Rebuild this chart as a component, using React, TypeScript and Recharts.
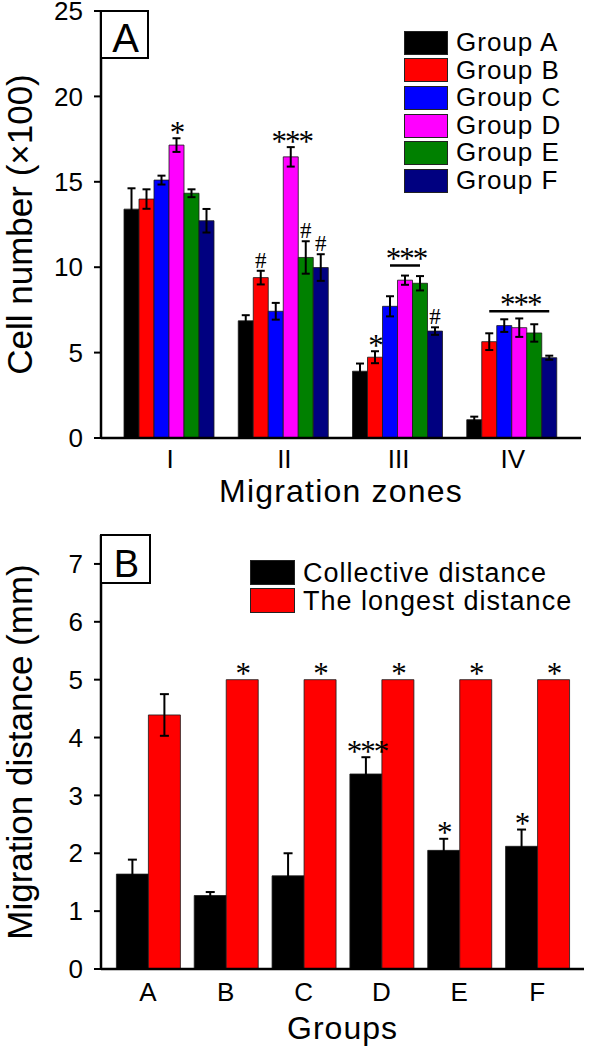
import { BarChart, Bar, XAxis, YAxis, ErrorBar, LabelList, Legend } from 'recharts';

const FONT = "'Liberation Sans', Arial, Helvetica, sans-serif";
const SERIF = "'Liberation Serif', 'Times New Roman', serif";

// ---- Panel A: cell number per migration zone ----
const zones = ['I', 'II', 'III', 'IV'];
const groupNames = ['Group A', 'Group B', 'Group C', 'Group D', 'Group E', 'Group F'];

const groupA = [13.4, 6.86, 3.91, 1.07];
const groupAErr = [1.22, 0.33, 0.45, 0.18];
const groupAMarks = ['', '', '', ''];

const groupB = [13.99, 9.39, 4.73, 5.64];
const groupBErr = [0.57, 0.4, 0.35, 0.49];
const groupBMarks = ['', '#', '*', ''];

const groupC = [15.1, 7.42, 7.71, 6.58];
const groupCErr = [0.26, 0.49, 0.59, 0.37];
const groupCMarks = ['', '', '', ''];

const groupD = [17.15, 16.46, 9.24, 6.46];
const groupDErr = [0.4, 0.57, 0.27, 0.54];
const groupDMarks = ['*', '***', '', ''];

const groupE = [14.33, 10.57, 9.06, 6.15];
const groupEErr = [0.23, 0.95, 0.42, 0.51];
const groupEMarks = ['', '#', '', ''];

const groupF = [12.72, 9.98, 6.26, 4.7];
const groupFErr = [0.69, 0.78, 0.22, 0.12];
const groupFMarks = ['', '#', '#', ''];

const cellTicks = [0, 5, 10, 15, 20, 25];

// significance bars spanning several groups (series index from..to)
const bracketZones = ['III', 'IV'];
const bracketFrom = [2, 1];
const bracketTo = [4, 5];
const bracketLevel = [10.1, 7.42];
const bracketText = ['***', '***'];

// ---- Panel B: migration distance per group ----
const groupLetters = ['A', 'B', 'C', 'D', 'E', 'F'];
const distanceNames = ['Collective distance', 'The longest distance'];

const collective = [1.64, 1.27, 1.61, 3.37, 2.05, 2.12];
const collectiveErr = [0.25, 0.06, 0.39, 0.29, 0.2, 0.29];
const collectiveMarks = ['', '', '', '***', '*', '*'];

const longest = [4.39, 5, 5, 5, 5, 5];
const longestErr = [0.36, 0, 0, 0, 0, 0];
const longestMarks = ['', '*', '*', '*', '*', '*'];

const distanceTicks = [0, 1, 2, 3, 4, 5, 6, 7];

const GROUP_COLORS = ['#000000', '#ff0000', '#0000ff', '#ff00ff', '#008000', '#000080'];
const DISTANCE_COLORS = ['#000000', '#ff0000'];

const seriesA = [
  { key: 'A', values: groupA, errs: groupAErr, marks: groupAMarks },
  { key: 'B', values: groupB, errs: groupBErr, marks: groupBMarks },
  { key: 'C', values: groupC, errs: groupCErr, marks: groupCMarks },
  { key: 'D', values: groupD, errs: groupDErr, marks: groupDMarks },
  { key: 'E', values: groupE, errs: groupEErr, marks: groupEMarks },
  { key: 'F', values: groupF, errs: groupFErr, marks: groupFMarks },
];

const seriesB = [
  { key: 'collective', values: collective, errs: collectiveErr, marks: collectiveMarks },
  { key: 'longest', values: longest, errs: longestErr, marks: longestMarks },
];

const zoneData = zones.map((zone, i) => {
  const row: Record<string, string | number> = { zone };
  seriesA.forEach((s) => {
    row[s.key] = s.values[i];
    row['err' + s.key] = s.errs[i];
  });
  return row;
});

const distanceData = groupLetters.map((group, i) => {
  const row: Record<string, string | number> = { group };
  seriesB.forEach((s) => {
    row[s.key] = s.values[i];
    row['err' + s.key] = s.errs[i];
  });
  return row;
});

function readBox(p: any) {
  const vb = p.viewBox && typeof p.viewBox.x === 'number' ? p.viewBox : p;
  return { x: Number(vb.x), y: Number(vb.y), width: Number(vb.width), height: Number(vb.height) };
}

function pointIndex(p: any, values: number[]) {
  return typeof p.index === 'number' ? p.index : values.indexOf(Number(p.value));
}

function Stars({ x, y, text }: { x: number; y: number; text: string }) {
  return (
    <text x={x} y={y} textAnchor="middle" fontFamily={SERIF} fontSize={31} letterSpacing={-2} fill="#000">
      {text}
    </text>
  );
}

/**
 * Star / hash above the error bar of one bar
 */
function SigMark({ p, values, errs, marks }: any) {
  const i = pointIndex(p, values);
  const mark = marks[i];
  if (!mark) return null;
  const { x, y, width, height } = readBox(p);
  const ppu = height / values[i];
  const top = y - errs[i] * ppu;
  const cx = x + width / 2;
  if (mark === '#') {
    return (
      <text x={cx} y={top - 3} textAnchor="middle" fontFamily={SERIF} fontSize={23} fill="#000">
        #
      </text>
    );
  }
  return <Stars x={cx + (mark.length > 1 ? 1 : 0)} y={top + 4.5} text={mark} />;
}

/**
 * Horizontal line with stars over several bars of one zone
 */
function BracketMark({ p, values, seriesIndex }: any) {
  const i = pointIndex(p, values);
  const k = bracketZones.findIndex((z, j) => z === zones[i] && bracketTo[j] === seriesIndex);
  if (k < 0) return null;
  const { x, y, width, height } = readBox(p);
  const ppu = height / values[i];
  const lineY = y + height - bracketLevel[k] * ppu;
  const x2 = x + width / 2;
  const x1 = x2 - (bracketTo[k] - bracketFrom[k]) * width;
  return (
    <g>
      <line x1={x1} x2={x2} y1={lineY} y2={lineY} stroke="#000" strokeWidth={2.5} />
      <Stars x={(x1 + x2) / 2 + 1} y={lineY + 4} text={bracketText[k]} />
    </g>
  );
}

/**
 * Rotated y title plus the boxed panel letter in the plot corner
 */
function FrameLabel({ viewBox, title, tag, tagW, tagH, tagSize }: any) {
  const vb = viewBox || { x: 0, y: 0, width: 101, height: 0 };
  const cy = vb.y + vb.height / 2;
  const titleX = 32;
  const tx = vb.x + vb.width;
  return (
    <g>
      <text
        x={titleX}
        y={cy}
        transform={`rotate(-90, ${titleX}, ${cy})`}
        textAnchor="middle"
        fontFamily={FONT}
        fontSize={35}
        fill="#000"
      >
        {title}
      </text>
      <rect x={tx} y={vb.y} width={tagW} height={tagH} fill="#fff" stroke="#000" strokeWidth={2} />
      <text x={tx + tagW / 2 + 1} y={vb.y + tagH - 6} textAnchor="middle" fontFamily={FONT} fontSize={tagSize} fill="#000">
        {tag}
      </text>
    </g>
  );
}

function legendContent(rowH: number, swW: number, swH: number, fontSize: number) {
  return function LegendBox(props: any) {
    const payload = props.payload || [];
    return (
      <div style={{ fontFamily: FONT, fontSize, color: '#000', letterSpacing: 1 }}>
        {payload.map((entry: any) => (
          <div key={entry.value} style={{ display: 'flex', alignItems: 'center', height: rowH }}>
            <span
              style={{
                display: 'inline-block',
                width: swW,
                height: swH,
                background: entry.color,
                border: '1px solid #222',
                boxSizing: 'border-box',
              }}
            />
            <span style={{ marginLeft: 8, lineHeight: `${rowH}px`, whiteSpace: 'nowrap' }}>{entry.value}</span>
          </div>
        ))}
      </div>
    );
  };
}

const axisLine = { stroke: '#000', strokeWidth: 2.5 };
const tickLine = { stroke: '#000', strokeWidth: 2 };
const tickStyle = { fill: '#000', fontSize: 26, fontFamily: FONT };

function CellChart() {
  return (
    <BarChart
      width={593}
      height={520}
      data={zoneData}
      margin={{ top: 11, right: 12, bottom: 0, left: 0 }}
      barCategoryGap={11}
      barGap={0}
    >
      <XAxis
        dataKey="zone"
        height={82}
        padding={{ left: 12, right: 11 }}
        axisLine={axisLine}
        tickLine={false}
        tickSize={0}
        tickMargin={12}
        tick={tickStyle}
        label={{
          value: 'Migration zones',
          position: 'insideBottom',
          offset: 18,
          fontSize: 32,
          fontFamily: FONT,
          fill: '#000',
          letterSpacing: 1.2,
        }}
      />
      <XAxis xAxisId="top" dataKey="zone" orientation="top" height={0} tick={false} tickLine={false} axisLine={axisLine} />
      <YAxis
        width={101}
        domain={[0, 25]}
        ticks={cellTicks}
        interval={0}
        axisLine={axisLine}
        tickLine={tickLine}
        tickSize={7}
        tickMargin={11}
        tick={tickStyle}
        label={{
          content: (p: any) => (
            <FrameLabel viewBox={p.viewBox} title="Cell number (×100)" tag="A" tagW={47} tagH={47} tagSize={40} />
          ),
        }}
      />
      <YAxis yAxisId="right" orientation="right" width={0} domain={[0, 1]} tick={false} tickLine={false} axisLine={axisLine} />
      <Legend
        layout="vertical"
        align="center"
        verticalAlign="middle"
        wrapperStyle={{ left: 404, top: 29, width: 'auto' }}
        content={legendContent(27.6, 44, 24, 26)}
      />
      {seriesA.map((s, idx) => (
        <Bar
          key={s.key}
          dataKey={s.key}
          name={groupNames[idx]}
          fill={GROUP_COLORS[idx]}
          stroke="#1a1a1a"
          strokeWidth={0.8}
          isAnimationActive={false}
        >
          <ErrorBar dataKey={'err' + s.key} width={4} strokeWidth={2} stroke="#000" />
          <LabelList dataKey={s.key} content={(p: any) => <SigMark p={p} values={s.values} errs={s.errs} marks={s.marks} />} />
          <LabelList dataKey={s.key} content={(p: any) => <BracketMark p={p} values={s.values} seriesIndex={idx} />} />
        </Bar>
      ))}
    </BarChart>
  );
}

function DistanceChart() {
  return (
    <BarChart
      width={593}
      height={530}
      data={distanceData}
      margin={{ top: 15, right: 9, bottom: 0, left: 0 }}
      barCategoryGap={7.4}
      barGap={0}
    >
      <XAxis
        dataKey="group"
        height={81}
        padding={{ left: 8, right: 8 }}
        axisLine={axisLine}
        tickLine={false}
        tickSize={0}
        tickMargin={14}
        tick={tickStyle}
        label={{
          value: 'Groups',
          position: 'insideBottom',
          offset: 11,
          fontSize: 32,
          fontFamily: FONT,
          fill: '#000',
          letterSpacing: 1,
        }}
      />
      <XAxis xAxisId="top" dataKey="group" orientation="top" height={0} tick={false} tickLine={false} axisLine={axisLine} />
      <YAxis
        width={101}
        domain={[0, 7.5]}
        ticks={distanceTicks}
        interval={0}
        axisLine={axisLine}
        tickLine={tickLine}
        tickSize={7}
        tickMargin={11}
        tick={tickStyle}
        label={{
          content: (p: any) => (
            <FrameLabel viewBox={p.viewBox} title="Migration distance (mm)" tag="B" tagW={49} tagH={48} tagSize={38} />
          ),
        }}
      />
      <YAxis yAxisId="right" orientation="right" width={0} domain={[0, 1]} tick={false} tickLine={false} axisLine={axisLine} />
      <Legend
        layout="vertical"
        align="center"
        verticalAlign="middle"
        wrapperStyle={{ left: 250, top: 38.5, width: 'auto' }}
        content={legendContent(28, 45, 25, 27)}
      />
      {seriesB.map((s, idx) => (
        <Bar
          key={s.key}
          dataKey={s.key}
          name={distanceNames[idx]}
          fill={DISTANCE_COLORS[idx]}
          stroke="#1a1a1a"
          strokeWidth={0.8}
          isAnimationActive={false}
        >
          <ErrorBar dataKey={'err' + s.key} width={4.5} strokeWidth={2} stroke="#000" />
          <LabelList dataKey={s.key} content={(p: any) => <SigMark p={p} values={s.values} errs={s.errs} marks={s.marks} />} />
        </Bar>
      ))}
    </BarChart>
  );
}

export default function App() {
  return (
    <div style={{ position: 'absolute', left: 0, top: 0, width: 593, height: 1050, background: '#fff' }}>
      <div style={{ position: 'absolute', left: 0, top: 0 }}>
        <CellChart />
      </div>
      <div style={{ position: 'absolute', left: 0, top: 520 }}>
        <DistanceChart />
      </div>
    </div>
  );
}
